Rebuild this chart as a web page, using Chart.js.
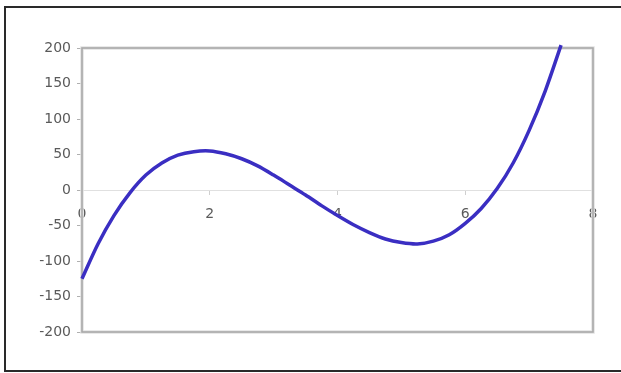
<!DOCTYPE html>
<html>
<head>
<meta charset="utf-8">
<script src="https://cdn.jsdelivr.net/npm/chart.js@4.4.1/dist/chart.umd.min.js"></script>
<style>
  html, body { margin: 0; padding: 0; background: #fff; overflow: hidden; }
  #wrap { position: relative; width: 621px; height: 373px; }
  #frame { position: absolute; left: 4px; top: 6px; width: 640px; height: 362px; border: 2px solid #2a2a2a; box-sizing: content-box; }
  canvas { position: absolute; left: 0; top: 0; }
</style>
</head>
<body>
<div id="wrap">
  <div id="frame"></div>
  <canvas id="c" width="621" height="373"></canvas>
</div>
<script>
// Data
const xValues = [0, 0.25, 0.5, 0.75, 1, 1.25, 1.5, 1.75, 2, 2.25, 2.5, 2.75, 3, 3.25, 3.5, 3.75, 4, 4.25, 4.5, 4.75, 5, 5.25, 5.5, 5.75, 6, 6.25, 6.5, 6.75, 7, 7.25, 7.5];
const yValues = [-125, -76, -36, -4, 21, 38, 49, 54, 55, 51, 44, 34, 21, 7, -7, -22, -36, -49, -60, -69, -74, -76, -72, -63, -47, -26, 2, 38, 84, 139, 204];
const xTicks = [0, 2, 4, 6, 8];
const yTicks = [-200, -150, -100, -50, 0, 50, 100, 150, 200];

const curve = xValues.map((x, i) => ({ x: x, y: yValues[i] }));

const framePlugin = {
  id: 'frame',
  beforeDatasetsDraw(chart) {
    const { ctx, chartArea: a } = chart;
    ctx.save();
    ctx.strokeStyle = '#e2e2e2';
    ctx.lineWidth = 3.5;
    ctx.strokeRect(a.left, a.top, a.right - a.left, a.bottom - a.top);
    ctx.strokeStyle = '#a9a9a9';
    ctx.lineWidth = 1.6;
    ctx.strokeRect(a.left, a.top, a.right - a.left, a.bottom - a.top);
    ctx.restore();
  }
};

new Chart(document.getElementById('c'), {
  type: 'scatter',
  data: {
    datasets: [
      {
        data: curve,
        showLine: true,
        borderColor: '#3a2ec2',
        borderWidth: 3.5,
        pointRadius: 0,
        tension: 0.3,
        fill: false,
        clip: false
      }
    ]
  },
  plugins: [framePlugin],
  options: {
    responsive: false,
    animation: false,
    layout: { padding: { left: 0, top: 48, right: 28, bottom: 41 } },
    plugins: { legend: { display: false }, tooltip: { enabled: false } },
    scales: {
      x: {
        type: 'linear',
        position: { y: 0 },
        min: 0, max: 8,
        afterBuildTicks(s) { s.ticks = xTicks.map(v => ({ value: v })); },
        grid: { drawOnChartArea: false, drawTicks: true, tickLength: 4, tickColor: '#cfcfcf' },
        border: { display: true, color: '#e0e0e0', width: 1 },
        ticks: { color: '#5a5a5a', font: { family: 'DejaVu Sans', size: 14 }, padding: 12, maxRotation: 0 }
      },
      y: {
        type: 'linear',
        min: -200, max: 200,
        afterBuildTicks(s) { s.ticks = yTicks.map(v => ({ value: v })); },
        afterFit(s) { s.width = 82; },
        grid: { drawOnChartArea: false, drawTicks: true, tickLength: 5, tickColor: '#b0b0b0' },
        border: { display: false },
        ticks: { color: '#5a5a5a', font: { family: 'DejaVu Sans', size: 14 }, padding: 6 }
      }
    }
  }
});
</script>
</body>
</html>
